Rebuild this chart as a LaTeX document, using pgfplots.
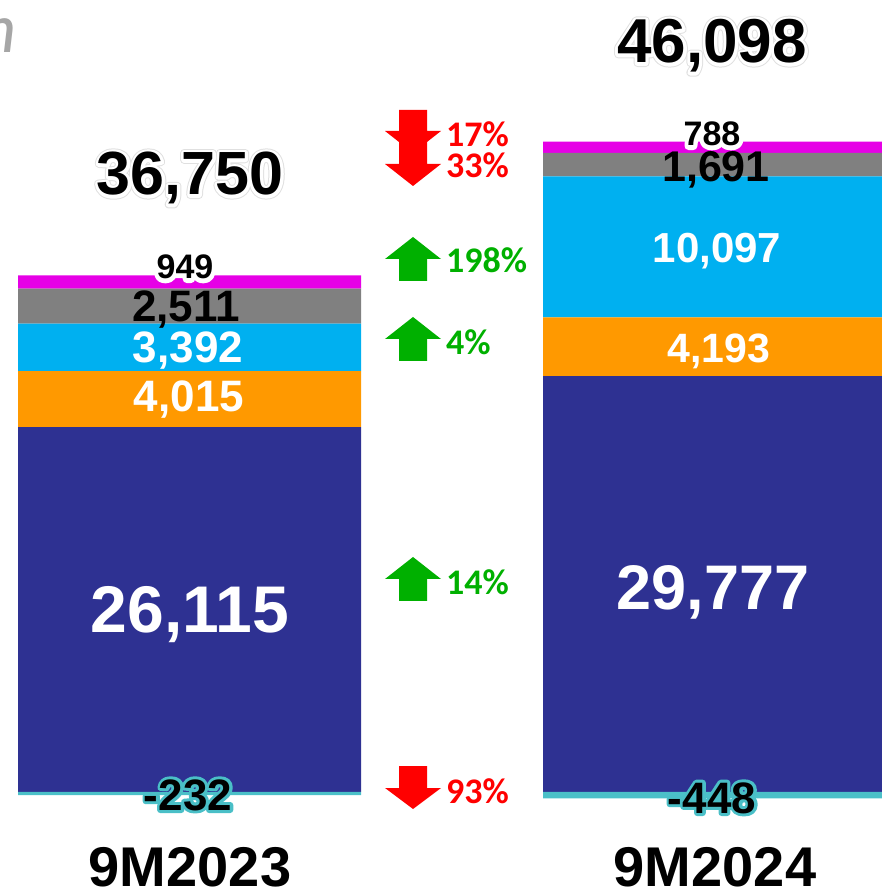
\documentclass[border=0pt]{standalone}
\usepackage{pgfplots}
\pgfplotsset{compat=1.18}
\usepackage{fontspec}
\setmainfont{Liberation Sans}
\newfontfamily\carl{Carlito}
\definecolor{navy}{RGB}{46,49,146}
\definecolor{orng}{RGB}{255,153,0}
\definecolor{cyn}{RGB}{0,176,240}
\definecolor{gry}{RGB}{128,128,128}
\definecolor{mag}{RGB}{230,0,230}
\definecolor{tl}{RGB}{75,192,200}
\definecolor{gr}{RGB}{0,176,0}
\definecolor{rd}{RGB}{255,0,0}
\definecolor{ttl}{RGB}{166,166,166}
% #1: stroke width, #2: stroke colour as "r g b" (0-1), #3: text
\newcommand\stk[3]{\rlap{\special{pdf:literal direct q 1 Tr #1 w 1 j #2 RG}#3\special{pdf:literal direct Q}}}
\newcommand\halo[3]{\stk{#1}{#2}{#3}#3}
\newcommand\halotot[1]{\stk{8}{0.88 0.88 0.88}{#1}\stk{6}{1 1 1}{#1}#1}
\pgfplotsset{base/.style={width=882pt,height=893pt,scale only axis,hide axis,
  xmin=-0.361,xmax=1.319,ymin=-7230,ymax=56693,bar width=0.6533,clip=true}}
\newcommand\fs[1]{\fontsize{#1}{#1}\selectfont}
\begin{document}
\begin{tikzpicture}
\begin{axis}[base,ybar stacked]
\addplot[fill=navy,draw=none] coordinates {(0,26115) (1,29777)};
\addplot[fill=orng,draw=none] coordinates {(0,4015) (1,4193)};
\addplot[fill=cyn,draw=none] coordinates {(0,3392) (1,10097)};
\addplot[fill=gry,draw=none] coordinates {(0,2511) (1,1691)};
\addplot[fill=mag,draw=none] coordinates {(0,949) (1,788)};
\coordinate (TL) at (rel axis cs:0,1);
\coordinate (BR) at (rel axis cs:1,0);
\end{axis}
\begin{axis}[base,ybar]
\addplot[fill=tl,draw=none] coordinates {(0,-232) (1,-448)};
\end{axis}
\pgfresetboundingbox
\useasboundingbox (TL) rectangle (BR);
\begin{scope}[shift={(TL)},x=1pt,y=-1pt,every node/.style={inner sep=0pt,anchor=base}]
% partial title
\node[anchor=base east,text=ttl,font=\carl\itshape\fs{70}] at (17,53) {n};
% totals
\node[font=\fs{61}\bfseries] at (190,195) {\halotot{36,750}};
\node[font=\fs{62}\bfseries] at (712,63) {\halotot{46,098}};
% bar 1
\node[font=\fs{34}\bfseries] at (185,279) {\halo{8}{1 1 1}{949}};
\node[font=\fs{44}\bfseries] at (186,322) {2,511};
\node[font=\fs{44}\bfseries,text=white] at (188,363) {3,392};
\node[font=\fs{44}\bfseries,text=white] at (189,412) {4,015};
\node[font=\fs{66}\bfseries,text=white] at (190,633) {26,115};
\node[font=\fs{44}\bfseries] at (188,810) {\halo{6}{0.29 0.75 0.78}{-232}};
\node[font=\fs{56}\bfseries] at (190,886) {9M2023};
% bar 2
\node[font=\fs{34}\bfseries] at (712,146) {\halo{8}{1 1 1}{788}};
\node[font=\fs{43}\bfseries] at (716,182) {1,691};
\node[font=\fs{42}\bfseries,text=white] at (717,263) {10,097};
\node[font=\fs{41}\bfseries,text=white] at (719,363) {4,193};
\node[font=\fs{63}\bfseries,text=white] at (713,610) {29,777};
\node[font=\fs{44}\bfseries] at (712,813) {\halo{6}{0.29 0.75 0.78}{-448}};
\node[font=\fs{56}\bfseries] at (715,886) {9M2024};
% arrows
\fill[rd] (399,110)--(427,110)--(427,131)--(441,131)--(413,153)--(385,131)--(399,131)--cycle;
\fill[rd] (399,131)--(427,131)--(427,164)--(441,164)--(413,186)--(385,164)--(399,164)--cycle;
\fill[gr] (413,237)--(441,259)--(427,259)--(427,281)--(399,281)--(399,259)--(385,259)--cycle;
\fill[gr] (413,317)--(441,339)--(427,339)--(427,361)--(399,361)--(399,339)--(385,339)--cycle;
\fill[gr] (413,557)--(441,579)--(427,579)--(427,601)--(399,601)--(399,579)--(385,579)--cycle;
\fill[rd] (399,766)--(427,766)--(427,788)--(441,788)--(413,809)--(385,788)--(399,788)--cycle;
% percentages
\begin{scope}[every node/.style={inner sep=0pt,anchor=base west,font=\carl\bfseries\fs{36}}]
\node[text=rd] at (446,147) {17\%};
\node[text=rd] at (446,178) {33\%};
\node[text=gr] at (446,273) {198\%};
\node[text=gr] at (446,355) {4\%};
\node[text=gr] at (446,595) {14\%};
\node[text=rd] at (446,803) {93\%};
\end{scope}
\end{scope}
\end{tikzpicture}
\end{document}
